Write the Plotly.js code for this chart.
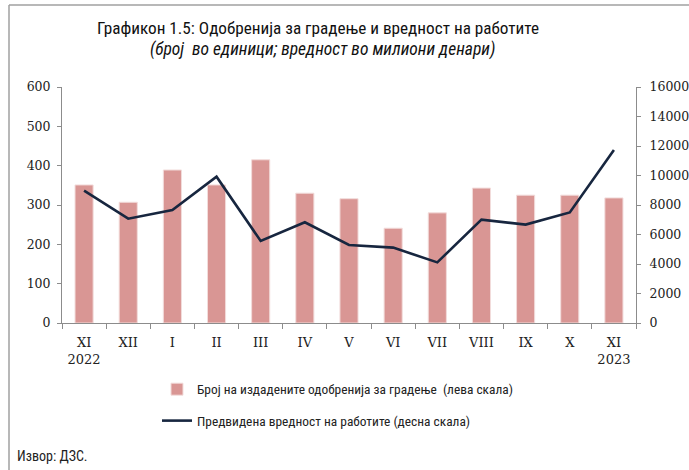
<!DOCTYPE html>
<html>
<head>
<meta charset="utf-8">
<script src="https://cdn.plot.ly/plotly-3.0.1.min.js"></script>
<style>html,body{margin:0;padding:0;background:#fff;}#chart{width:689px;height:470px;}</style>
</head>
<body>
<div id="chart"></div>
<script>
const categories = ["XI 2022","XII","I","II","III","IV","V","VI","VII","VIII","IX","X","XI 2023"];
const tickLabels = ["XI<br>2022","XII","I","II","III","IV","V","VI","VII","VIII","IX","X","XI<br>2023"];
const permits = [351, 307, 389, 351, 415, 330, 316, 241, 280, 343, 325, 325, 318];
const worksValue = [8970, 7070, 7660, 9920, 5560, 6830, 5290, 5110, 4110, 7010, 6670, 7500, 11730];
const leftTicks = [0,100,200,300,400,500,600];
const rightTicks = [0,2000,4000,6000,8000,10000,12000,14000,16000];

const narrow = "'Liberation Sans Narrow', 'Arial Narrow', 'Roboto Condensed', Roboto, sans-serif";
const serif = "'DejaVu Serif', 'Liberation Serif', serif";

const traces = [
  {
    type: "bar", x: categories, y: permits,
    name: "Број на издадените одобренија за градење  (лева скала)",
    marker: {color: "#D99694", line: {color: "#F2DCDB", width: 1}},
    width: 0.41, legendgroup: "a"
  },
  {
    type: "scatter", mode: "lines", x: categories, y: worksValue, yaxis: "y2",
    name: "Предвидена вредност на работите (десна скала)",
    line: {color: "#17263F", width: 2.6}, legendgroup: "b"
  }
];

const gray = "#8C8C8C";
const layout = {
  width: 689, height: 470,
  margin: {l: 62, r: 53, t: 87, b: 147},
  paper_bgcolor: "#fff", plot_bgcolor: "#fff",
  showlegend: true,
  legend: {
    x: 0.1655, xanchor: "left", y: -0.216, yanchor: "top",
    font: {family: narrow, size: 13.4, color: "#222"},
    traceorder: "grouped", tracegroupgap: 11, itemwidth: 30,
    bgcolor: "rgba(0,0,0,0)"
  },
  xaxis: {
    type: "category", tickvals: categories, ticktext: tickLabels,
    showline: true, linecolor: gray, linewidth: 1,
    ticks: "outside", tickson: "boundaries", ticklen: 5, tickcolor: gray,
    ticklabelstandoff: 7,
    tickfont: {family: serif, size: 13, color: "#222"},
    showgrid: false, zeroline: false
  },
  yaxis: {
    range: [0, 600], tickvals: leftTicks, ticktext: leftTicks.map(String),
    showline: true, linecolor: gray, linewidth: 1,
    ticks: "outside", ticklen: 4, tickcolor: gray, ticklabelstandoff: 4,
    tickfont: {family: serif, size: 12.5, color: "#222"},
    showgrid: false, zeroline: false
  },
  yaxis2: {
    overlaying: "y", side: "right",
    range: [0, 16000], tickvals: rightTicks, ticktext: rightTicks.map(String),
    showline: true, linecolor: gray, linewidth: 1,
    ticks: "outside", ticklen: 4, tickcolor: gray, ticklabelstandoff: 6,
    tickfont: {family: serif, size: 12.5, color: "#222"},
    showgrid: false, zeroline: false
  },
  annotations: [
    {xref: "paper", yref: "paper", x: (318-62)/574, y: (323-28)/236, xanchor: "center", yanchor: "middle",
     text: "Графикон 1.5: Одобренија за градење и вредност на работите", showarrow: false,
     font: {family: narrow, size: 17.2, color: "#111"}},
    {xref: "paper", yref: "paper", x: (322-62)/574, y: (323-50)/236, xanchor: "center", yanchor: "middle",
     text: "<i>(број  во единици; вредност во милиони денари)</i>", showarrow: false,
     font: {family: narrow, size: 17.5, color: "#111"}},
    {xref: "paper", yref: "paper", x: (15-62)/574, y: (323-456)/236, xanchor: "left", yanchor: "middle",
     text: "Извор: ДЗС.", showarrow: false,
     font: {family: narrow, size: 14, color: "#222"}}
  ],
  shapes: [
    {type: "line", xref: "paper", yref: "paper", x0: (9-62)/574, x1: (689-62)/574, y0: (323-5)/236, y1: (323-5)/236,
     line: {color: "#A0A0A0", width: 1.5}},
    {type: "line", xref: "paper", yref: "paper", x0: (9-62)/574, x1: (9-62)/574, y0: (323-5)/236, y1: (323-470)/236,
     line: {color: "#A0A0A0", width: 1.5}}
  ]
};

Plotly.newPlot("chart", traces, layout, {staticPlot: true, displayModeBar: false});
</script>
</body>
</html>
